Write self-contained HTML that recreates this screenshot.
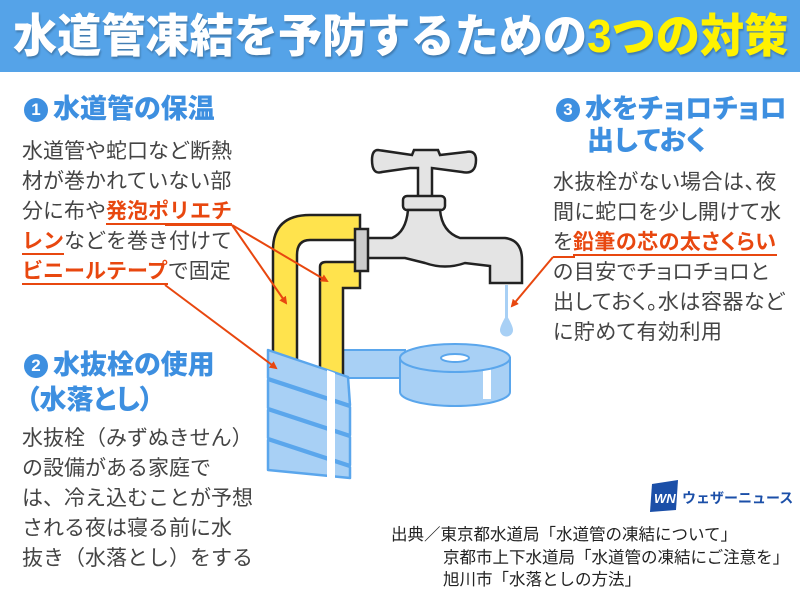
<!DOCTYPE html>
<html><head><meta charset="utf-8"><style>
*{margin:0;padding:0;box-sizing:border-box}
body{width:800px;height:600px;background:#fff;position:relative;overflow:hidden;font-family:"Liberation Sans","Noto Sans CJK JP",sans-serif;color:#333}
.hdr{position:absolute;left:0;top:0;width:800px;height:72px;background:#55a3e8}
.title{position:absolute;left:13px;top:8px;font-size:46px;font-weight:900;color:#fff;white-space:nowrap;transform:scaleX(0.96);transform-origin:left top;line-height:56px;text-shadow:1px 2px 2px rgba(0,0,0,0.25)}
.title span{color:#fff200}
.h{position:absolute;font-size:27px;font-weight:900;color:#3d8fe0;white-space:nowrap;line-height:32px;font-feature-settings:"palt"}
.num{display:inline-block;width:24px;height:24px;border-radius:50%;background:#3d8fe0;color:#fff;font-size:17px;text-align:center;line-height:24px;vertical-align:3px;margin-right:5px}
.t{position:absolute;font-size:21px;line-height:30px;white-space:nowrap;color:#444}
.r{font-feature-settings:"palt";letter-spacing:0.5px}
.o{color:#e8470f;font-weight:bold;border-bottom:2px solid #e8470f}
.c{position:absolute;font-size:16.5px;line-height:22px;white-space:nowrap;color:#222}
</style></head><body>
<div class="hdr"></div>
<div class="title">水道管凍結を予防するための<span>3つの対策</span></div>

<div class="h" style="left:24px;top:93px"><span class="num">1</span>水道管の保温</div>
<div class="t" style="left:22px;top:137px">水道管や蛇口など断熱<br>材が巻かれていない部<br>分に布や<span class="o">発泡ポリエチ</span><br><span class="o">レン</span>などを巻き付けて<br><span class="o">ビニールテープ</span>で固定</div>

<div class="h" style="left:24px;top:349px"><span class="num">2</span>水抜栓の使用</div>
<div class="h" style="left:26px;top:384px">（水落とし）</div>
<div class="t" style="left:22px;top:424px">水抜栓（みずぬきせん）<br>の設備がある家庭で<br>は、冷え込むことが予想<br>される夜は寝る前に水<br>抜き（水落とし）をする</div>

<div class="h" style="left:556px;top:93px"><span class="num">3</span>水をチョロチョロ</div>
<div class="h" style="left:587px;top:125px">出しておく</div>
<div class="t r" style="left:553px;top:168px">水抜栓がない場合は、夜<br>間に蛇口を少し開けて水<br>を<span class="o">鉛筆の芯の太さくらい</span><br>の目安でチョロチョロと<br>出しておく。水は容器など<br>に貯めて有効利用</div>

<svg style="position:absolute;left:0;top:0" width="800" height="600">
<defs><marker id="a" markerWidth="8" markerHeight="8" refX="6" refY="4" orient="auto" markerUnits="userSpaceOnUse"><path d="M0,0 L8,4 L0,8 z" fill="#e8470f"/></marker></defs>
<path d="M340,350 L405,350 L405,378 L340,378 z" fill="#a8d0f5" stroke="#5aa6ec" stroke-width="2"/>
<path d="M400,358 L400,392 A55,14 0 0 0 510,392 L510,358 z" fill="#a8d0f5" stroke="#5aa6ec" stroke-width="2"/>
<rect x="483" y="365" width="8" height="34" fill="#fff"/>
<ellipse cx="455" cy="358" rx="55" ry="14" fill="#a8d0f5" stroke="#5aa6ec" stroke-width="2"/>
<ellipse cx="455" cy="358" rx="14" ry="4" fill="#fff" stroke="#5aa6ec" stroke-width="2"/>
<path d="M273,355 L273,250 Q273,215 310,215 L360,215 L360,240 L310,240 Q297,240 297,255 L297,360 z" fill="#ffe34d" stroke="#222" stroke-width="2.5"/>
<path d="M320,372 L320,267 Q320,262 326,262 L360,262 L360,288 L343,288 L343,380 z" fill="#ffe34d" stroke="#222" stroke-width="2.5"/>
<path d="M378,150 Q372,150 372,160 Q372,175 382,172 L410,168 L418,168 L418,198 L432,198 L432,168 L462,172 Q476,175 476,160 Q476,150 466,152 L440,155 L438,150 L414,150 L412,155 Z" fill="#e4e4e4" stroke="#222" stroke-width="2.5"/>
<rect x="403" y="196" width="42" height="14" rx="4" fill="#e4e4e4" stroke="#222" stroke-width="2.5"/>
<path d="M408,210 L440,210 Q442,232 460,238 L505,238 Q522,240 522,260 L522,283 L490,283 L490,266 L465,263 Q445,270 425,263 L405,258 L366,258 L366,238 L392,238 Q406,232 408,210 z" fill="#e4e4e4" stroke="#222" stroke-width="2.5"/>
<rect x="355" y="229" width="13" height="42" fill="#ccc" stroke="#222" stroke-width="2.5"/>
<rect x="505" y="285" width="3" height="35" fill="#a8d0f5"/>
<path d="M506.5,315 Q500,326 500,330 A6.5,6.5 0 0 0 513,330 Q513,326 506.5,315z" fill="#a8d0f5"/>
<g fill="#a8d0f5" stroke="#5aa6ec" stroke-width="2.5" stroke-linejoin="round">
<path d="M268,350 L348,377 L350,405 L268,378 z"/>
<path d="M268,380 L350,407 L350,435 L268,408 z"/>
<path d="M268,410 L350,437 L350,465 L268,438 z"/>
<path d="M268,440 L350,467 L350,478 L268,470 z"/>
</g>
<path d="M327,370 L335,373 L335,478 L327,478 z" fill="#fff"/>
<g stroke="#e8470f" stroke-width="2" fill="none" marker-end="url(#a)">
<line x1="232" y1="225" x2="286" y2="303"/>
<line x1="232" y1="225" x2="327" y2="281"/>
<line x1="165" y1="285" x2="276" y2="368"/>
<line x1="553" y1="257" x2="512" y2="306"/>
</g>
<line x1="232" y1="225" x2="165" y2="225" stroke="#e8470f" stroke-width="2"/>
<line x1="553" y1="257" x2="575" y2="257" stroke="#e8470f" stroke-width="2"/>
<path d="M652,484 L678,480 L676,510 L650,512 z" fill="#1b4fa8"/>
<text x="654" y="503" font-family="Liberation Sans" font-size="13" font-weight="bold" font-style="italic" fill="#fff">WN</text>
<text x="682" y="503" font-family="Liberation Sans,Noto Sans CJK JP,sans-serif" font-size="14" font-weight="bold" fill="#1b4fa8">ウェザーニュース</text>
</svg>

<div class="c" style="left:391px;top:524px">出典／東京都水道局「水道管の凍結について」</div>
<div class="c" style="left:443px;top:547px">京都市上下水道局「水道管の凍結にご注意を」</div>
<div class="c" style="left:443px;top:569px">旭川市「水落としの方法」</div>
</body></html>
